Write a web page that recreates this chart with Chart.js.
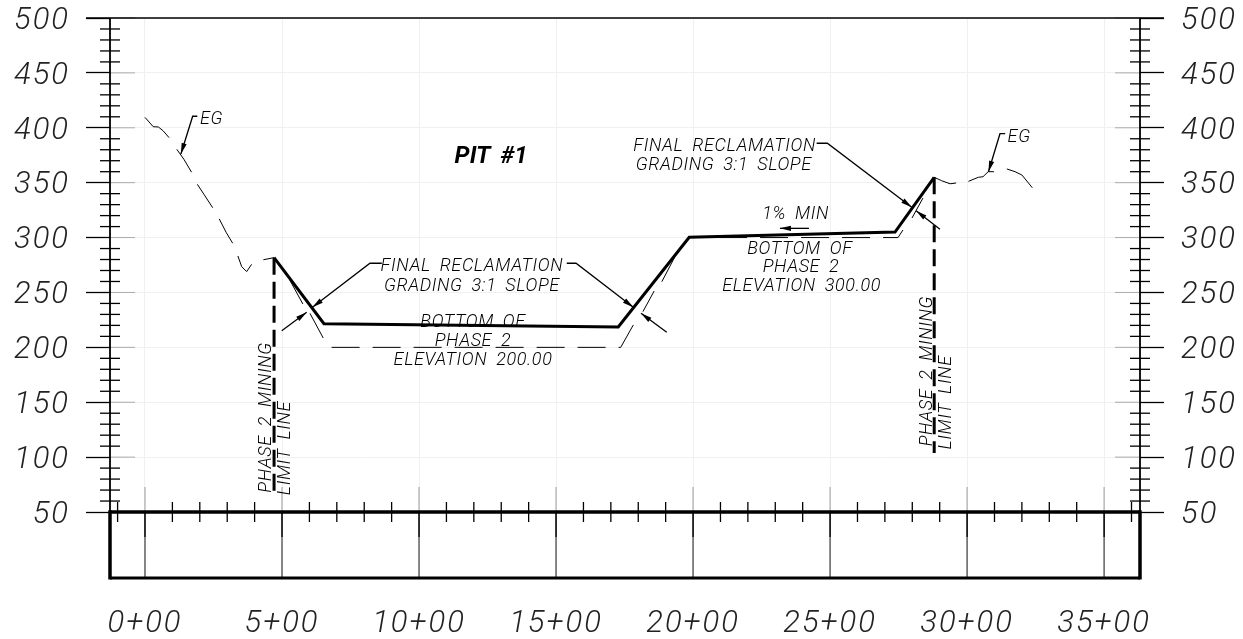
<!DOCTYPE html>
<html>
<head>
<meta charset="utf-8">
<title>PIT #1</title>
<style>
  html, body { margin: 0; padding: 0; background: #fff; }
  canvas { display: block; }
</style>
<script src="https://cdn.jsdelivr.net/npm/chart.js@4/dist/chart.umd.min.js"></script>
</head>
<body>
<canvas id="perfil" width="1243" height="639"></canvas>
<script>
// existing ground, left and right of the pit (null = break in the line)
const egLeftStations = [0, 30, 49, 66, 88, null, 116, 142, 170, null, 191, 215, 247, null, 271, 296, 320, null, 339, 353, 371, 389, null, 432, 471];
const egLeftElevations = [409.5, 401, 400.7, 397.3, 391, null, 380.4, 371.3, 359.5, null, 348.5, 339.4, 327.2, null, 317, 304.8, 294.8, null, 283.2, 273.5, 269, 275.6, null, 279.8, 281.7];
const egRightStations = [2880, 2907, 2938, 2960, null, 3005, 3041, 3058, 3077, 3098, null, 3145, 3175, 3200, 3238];
const egRightElevations = [354.9, 351.8, 349, 349.7, null, 351.2, 354.9, 355.4, 360, 360, null, 362.5, 360, 357, 345.4];

// final reclamation grade
const finalStations = [471, 653, 1727, 1986, 2737, 2880];
const finalElevations = [281.7, 221.5, 218.5, 300.2, 305, 354.9];

// phase 2 bottom (thin dashed)
const phaseStations = [529, 576, null, 602, 651, null, 681, 1736, 1782, null, 1817, 1858, null, 1886, 1934, null, 2095, 2748, 2766, null, 2799, 2839];
const phaseElevations = [261, 239.5, null, 231, 208.2, null, 200, 200, 220.4, null, 232.5, 251.3, null, 259.8, 282.6, null, 300, 300, 306.9, null, 317.8, 336];

// mining limit lines
const limitLeftStations = [471, 471];
const limitLeftElevations = [281.7, 69];
const limitRightStations = [2880, 2880];
const limitRightElevations = [354.9, 103.7];

// leaders, last point is the arrow tip
const leaders = [
  [[191, 410.5], [174, 410.5], [131, 376.1]],
  [[3139, 394.6], [3120, 394.6], [3078, 360]],
  [[864, 276.6], [821, 276.6], [611, 236.5]],
  [[1539, 276.6], [1573, 276.6], [1782, 236.5]],
  [[2451, 385.9], [2490, 385.9], [2798, 327.6]],
  [[499, 215.2], [590, 231.9]],
  [[1904, 213.7], [1810, 231]],
  [[2901, 307.5], [2814, 324.5]],
  [[2423, 308.4], [2317, 308.4]]
];

const notes = ['EG', 'EG', 'FINAL RECLAMATION', 'GRADING 3:1 SLOPE', 'BOTTOM OF', 'PHASE 2', 'ELEVATION 200.00',
  'FINAL RECLAMATION', 'GRADING 3:1 SLOPE', '1% MIN', 'BOTTOM OF', 'PHASE 2', 'ELEVATION 300.00'];
const noteStations = [243, 3190, 1193, 1193, 1197, 1197, 1197, 2115, 2112, 2374, 2390, 2394, 2396];
const noteElevations = [409.8, 393.4, 275.9, 257.7, 224.9, 206.7, 189.4, 385.2, 367.9, 322.4, 291.4, 274.1, 256.8];

const sideNotes = ['PHASE 2 MINING', 'LIMIT LINE', 'PHASE 2 MINING', 'LIMIT LINE'];
const sideStations = [436, 506, 2850, 2916];
const sideElevations = [136.1, 108.3, 178.4, 149.8];

const elevationTicks = [50, 100, 150, 200, 250, 300, 350, 400, 450, 500];
const stationTicks = [0, 500, 1000, 1500, 2000, 2500, 3000, 3500];

const X_MIN = -127.7, X_MAX = 3631, Y_MIN = -10.1, Y_MAX = 500, Y_BASE = 50;
const FONT = 'Roboto';

function pontos(xs, ys) {
  return xs.map((x, i) => x === null ? { x: NaN, y: NaN } : { x: x, y: ys[i] });
}

function linha(xs, ys, width, dash) {
  return {
    data: pontos(xs, ys),
    showLine: true,
    borderColor: '#000',
    borderWidth: width,
    borderDash: dash || [],
    pointRadius: 0,
    tension: 0,
    spanGaps: false
  };
}

const leaderSets = leaders.map(l => linha(l.map(p => p[0]), l.map(p => p[1]), 1.3));

// frame, small ticks, arrow heads and notes
const desenho = {
  id: 'desenho',
  beforeDraw(chart) {
    // spacing for the tick labels, the font is narrower than the drawing's
    chart.ctx.letterSpacing = '2px';
  },
  beforeDatasetsDraw(chart) {
    const { ctx, scales: { x, y } } = chart;
    const base = y.getPixelForValue(Y_BASE);
    const seg = (x1, y1, x2, y2, color, w) => {
      ctx.strokeStyle = color;
      ctx.lineWidth = w;
      ctx.beginPath();
      ctx.moveTo(x1, y1);
      ctx.lineTo(x2, y2);
      ctx.stroke();
    };
    ctx.save();
    // darker ends of the grid lines
    elevationTicks.forEach(v => {
      const p = y.getPixelForValue(v);
      seg(x.left, p, x.left + 25, p, '#aaa', 1);
      seg(x.right - 25, p, x.right, p, '#aaa', 1);
    });
    stationTicks.forEach(v => {
      const p = x.getPixelForValue(v);
      seg(p, base - 25, p, base, '#aaa', 1.2);
      seg(p, base, p, base + 25, '#000', 1.6);
      seg(p, base + 25, p, y.bottom, '#555', 1.4);
    });
    // minor ticks every 10 ft of elevation and 100 ft of station
    for (let v = Y_BASE + 10; v < Y_MAX; v += 10) {
      if (v % 50 === 0) continue;
      const p = y.getPixelForValue(v);
      seg(x.left - 10, p, x.left + 10, p, '#000', 1.3);
      seg(x.right - 10, p, x.right + 10, p, '#000', 1.3);
    }
    for (let v = -100; v <= 3600; v += 100) {
      if (v % 500 === 0) continue;
      const p = x.getPixelForValue(v);
      seg(p, base - 10, p, base + 10, '#000', 1.3);
    }
    // frame
    seg(x.left - 24, y.top, x.right + 24, y.top, '#000', 1.5);
    seg(x.left, y.top, x.left, base, '#000', 1.8);
    seg(x.right, y.top, x.right, base, '#000', 1.8);
    seg(x.left, base, x.right, base, '#000', 3.5);
    seg(x.left, base - 1.7, x.left, y.bottom + 1.5, '#000', 3.5);
    seg(x.right, base - 1.7, x.right, y.bottom + 1.5, '#000', 3.5);
    seg(x.left, y.bottom, x.right, y.bottom, '#000', 3);
    ctx.restore();
  },
  afterDatasetsDraw(chart) {
    const { ctx, scales: { x, y } } = chart;
    ctx.save();
    ctx.fillStyle = '#000';
    leaders.forEach(l => {
      const a = l[l.length - 2], b = l[l.length - 1];
      const bx = x.getPixelForValue(b[0]), by = y.getPixelForValue(b[1]);
      const ang = Math.atan2(by - y.getPixelForValue(a[1]), bx - x.getPixelForValue(a[0]));
      ctx.save();
      ctx.translate(bx, by);
      ctx.rotate(ang);
      ctx.beginPath();
      ctx.moveTo(0, 0);
      ctx.lineTo(-11, -2.6);
      ctx.lineTo(-11, 2.6);
      ctx.closePath();
      ctx.fill();
      ctx.restore();
    });
    ctx.textAlign = 'center';
    ctx.textBaseline = 'middle';
    ctx.letterSpacing = '0.6px';
    ctx.wordSpacing = '4px';
    ctx.font = 'italic 300 18px ' + FONT;
    notes.forEach((t, i) => {
      ctx.fillText(t, x.getPixelForValue(noteStations[i]), y.getPixelForValue(noteElevations[i]) + 2);
    });
    sideNotes.forEach((t, i) => {
      ctx.save();
      ctx.translate(x.getPixelForValue(sideStations[i]), y.getPixelForValue(sideElevations[i]));
      ctx.rotate(-Math.PI / 2);
      ctx.fillText(t, 0, 2);
      ctx.restore();
    });
    ctx.letterSpacing = '0px';
    ctx.font = 'italic bold 24px ' + FONT;
    ctx.fillText('PIT #1', x.getPixelForValue(1263), y.getPixelForValue(375.2) + 2);
    ctx.restore();
  }
};

const eixoY = (position, width, pad) => ({
  type: 'linear',
  position: position,
  min: Y_MIN,
  max: Y_MAX,
  afterBuildTicks(scale) { scale.ticks = elevationTicks.map(v => ({ value: v })); },
  afterFit(scale) {
    scale.width = width;
    scale.paddingTop = 0;
    scale.paddingBottom = 0;
  },
  border: { display: false },
  grid: {
    color: '#f0f0f0',
    lineWidth: 1,
    tickColor: '#000',
    tickLength: 24,
    tickWidth: 1.3
  },
  ticks: {
    padding: pad,
    color: '#222',
    // empty first line with a small line height moves the label down a bit
    font: { family: FONT, size: 31, style: 'italic', weight: 300, lineHeight: '6px' },
    callback: v => ['', String(v)]
  }
});

new Chart(document.getElementById('perfil'), {
  type: 'scatter',
  data: {
    datasets: [
      linha(phaseStations, phaseElevations, 1, [28, 13]),
      linha(egLeftStations, egLeftElevations, 1),
      linha(egRightStations, egRightElevations, 1),
      ...leaderSets,
      linha(limitLeftStations, limitLeftElevations, 3, [17, 7]),
      linha(limitRightStations, limitRightElevations, 3, [17, 7]),
      linha(finalStations, finalElevations, 3)
    ]
  },
  plugins: [desenho],
  options: {
    responsive: false,
    animation: false,
    layout: { padding: { top: 18 } },
    plugins: { legend: { display: false }, tooltip: { enabled: false } },
    scales: {
      x: {
        type: 'linear',
        min: X_MIN,
        max: X_MAX,
        afterBuildTicks(scale) { scale.ticks = stationTicks.map(v => ({ value: v })); },
        afterFit(scale) { scale.height = 61; },
        border: { display: false },
        grid: { color: '#f0f0f0', lineWidth: 1, drawTicks: false },
        ticks: {
          padding: 28,
          maxRotation: 0,
          color: '#222',
          font: { family: FONT, size: 31, style: 'italic', weight: 300 },
          callback: v => (v / 100) + '+00'
        }
      },
      y: eixoY('left', 110, 16),
      y2: eixoY('right', 103, 17)
    }
  }
});
</script>
</body>
</html>
